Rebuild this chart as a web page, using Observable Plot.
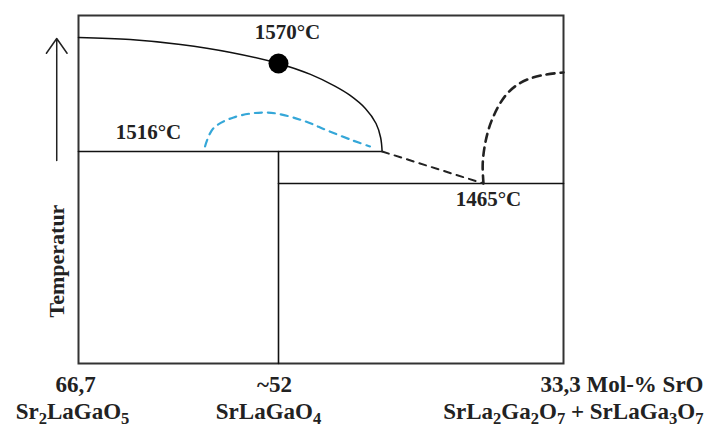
<!DOCTYPE html>
<html>
<head>
<meta charset="utf-8">
<script src="https://cdn.jsdelivr.net/npm/d3@7"></script>
<script src="https://cdn.jsdelivr.net/npm/@observablehq/plot@0.6"></script>
<style>
  html, body { margin: 0; padding: 0; background: #fff; }
  #chart svg { display: block; }
</style>
</head>
<body>
<div id="chart"></div>
<script>
// ---- data (Mol-% SrO on x, temperature on y; schematic phase diagram) ----
const molTicks = [66.7, 52, 33.3];
const tickLabels = ["66,7", "~52", "33,3 Mol-% SrO"];
const phaseLabels = ["Sr₂LaGaO₅", "SrLaGaO₄", "SrLa₂Ga₂O₇ + SrLaGa₃O₇"];
const tempLevels = [1465, 1516, 1570];
const tempLabels = ["1465°C", "1516°C", "1570°C"];

// liquidus (solid curve)
const liquidusMol = [66.7, 62.9, 59.2, 55.5, 52.0, 49.9, 48.3, 47.3, 46.3, 45.6, 45.3, 45.2];
const liquidusT   = [1586.3, 1585.0, 1581.9, 1576.9, 1570.0, 1563.3, 1556.1, 1550.4, 1542.4, 1533.2, 1524.6, 1516.0];

// metastable (blue dashed) curve
const blueMol = [57.4, 56.8, 55.3, 52.8, 50.4, 48.8, 47.1, 46.0];
const blueT   = [1519.1, 1530.1, 1536.9, 1539.9, 1535.0, 1528.9, 1522.7, 1519.1];

// dashed line from end of 1516 line down to eutectic 1465
const slopeMol = [45.2, 38.55];
const slopeT   = [1516, 1465];

// dashed curve rising from eutectic to right edge
const rightMol = [38.55, 38.6, 38.4, 37.96, 37.1, 36.1, 34.8, 33.3];
const rightT   = [1465, 1496.9, 1522.7, 1536.2, 1550.4, 1558.3, 1562.6, 1564.5];

// horizontal / vertical phase boundaries
const solidusMol = [66.7, 45.2];   // 1516 line
const eutecticMol = [52, 33.3];    // 1465 line
const compoundMol = 52;            // SrLaGaO4 vertical
const bottomT = 1400;
const topT = 1600;

// axis arrow (temperature direction)
const arrowMol = 68.3;
const arrowT = [1501.7, 1585.6];
const axisTitle = "Temperatur";
const axisTitleT = 1437;

// schematic (non-linear) axes: piecewise mapping to a 0..1 position
const xWarp = d3.scaleLinear([66.7, 52, 33.3], [0, 200 / 485, 1]);
const yWarp = d3.scaleLinear([bottomT, 1465, 1516, 1570, topT], [0, 180 / 348, 212 / 348, 300 / 348, 1]);

const zip = (xs, ys) => xs.map((x, i) => ({x, y: ys[i]}));

const font = "'Liberation Serif', 'Times New Roman', serif";
const ink = "#222";
const tempFont = 21;
const labelFont = 23;

const chart = Plot.plot({
  width: 710,
  height: 429,
  marginLeft: 78,
  marginRight: 147,
  marginTop: 15,
  marginBottom: 66,
  style: {fontFamily: font, background: "#fff", overflow: "visible"},
  x: {transform: xWarp, domain: [0, 1], axis: null},
  y: {transform: yWarp, domain: [0, 1], axis: null},
  marks: [
    Plot.frame({stroke: "#333", strokeWidth: 2}),
    // 1516 horizontal
    Plot.line(zip(solidusMol, [1516, 1516]), {x: "x", y: "y", stroke: "#111", strokeWidth: 1.6}),
    // vertical compound line
    Plot.line(zip([compoundMol, compoundMol], [bottomT, 1516]), {x: "x", y: "y", stroke: "#111", strokeWidth: 1.6}),
    // 1465 horizontal
    Plot.line(zip(eutecticMol, [1465, 1465]), {x: "x", y: "y", stroke: "#111", strokeWidth: 1.6}),
    // liquidus
    Plot.line(zip(liquidusMol, liquidusT), {x: "x", y: "y", stroke: "#111", strokeWidth: 1.5, curve: "catmull-rom"}),
    // blue dashed
    Plot.line(zip(blueMol, blueT), {x: "x", y: "y", stroke: "#35a7d8", strokeWidth: 2.2, strokeDasharray: "7,6", curve: "catmull-rom"}),
    // black dashed slope
    Plot.line(zip(slopeMol, slopeT), {x: "x", y: "y", stroke: ink, strokeWidth: 2, strokeDasharray: "7,6"}),
    // black dashed right curve
    Plot.line(zip(rightMol, rightT), {x: "x", y: "y", stroke: ink, strokeWidth: 2.6, strokeDasharray: "8,6", curve: "catmull-rom"}),
    // congruent melting point
    Plot.dot([{x: 52, y: 1570}], {x: "x", y: "y", r: 10, fill: "#000"}),
    // temperature labels
    Plot.text([{x: 38.55, y: tempLevels[0], t: tempLabels[0]}], {x: "x", y: "y", text: "t", dx: 5, dy: 22, lineAnchor: "bottom", fontSize: tempFont, fontWeight: "bold", fill: ink}),
    Plot.text([{x: 66.7, y: tempLevels[1], t: tempLabels[1]}], {x: "x", y: "y", text: "t", dx: 70, dy: -13, lineAnchor: "bottom", fontSize: tempFont, fontWeight: "bold", fill: ink}),
    Plot.text([{x: 52, y: tempLevels[2], t: tempLabels[2]}], {x: "x", y: "y", text: "t", dx: 9, dy: -25, lineAnchor: "bottom", fontSize: tempFont, fontWeight: "bold", fill: ink}),
    // temperature arrow
    Plot.arrow([{x: arrowMol, y1: arrowT[0], y2: arrowT[1]}], {x: "x", y1: "y1", y2: "y2", stroke: ink, strokeWidth: 1.5, headLength: 18, headAngle: 70}),
    Plot.text([{y: axisTitleT, t: axisTitle}], {frameAnchor: "left", y: "y", text: "t", dx: -22, rotate: -90, textAnchor: "middle", fontSize: 22, fontWeight: "bold", fill: ink}),
    // composition tick labels
    Plot.text([{x: molTicks[0], t: tickLabels[0]}], {x: "x", text: "t", frameAnchor: "bottom", lineAnchor: "bottom", dy: 28, dx: -3, fontSize: labelFont, fontWeight: "bold", fill: ink}),
    Plot.text([{x: molTicks[1], t: tickLabels[1]}], {x: "x", text: "t", frameAnchor: "bottom", lineAnchor: "bottom", dy: 28, dx: -4, fontSize: labelFont, fontWeight: "bold", fill: ink}),
    Plot.text([{x: molTicks[2], t: tickLabels[2]}], {x: "x", text: "t", frameAnchor: "bottom", lineAnchor: "bottom", textAnchor: "end", dy: 28, dx: 140, fontSize: labelFont, fontWeight: "bold", fill: ink}),
    // phase labels
    Plot.text([{x: molTicks[0], t: phaseLabels[0]}], {x: "x", text: "t", frameAnchor: "bottom", lineAnchor: "bottom", dy: 55, dx: -6, fontSize: labelFont, fontWeight: "bold", fill: ink}),
    Plot.text([{x: molTicks[1], t: phaseLabels[1]}], {x: "x", text: "t", frameAnchor: "bottom", lineAnchor: "bottom", dy: 55, dx: -10, fontSize: labelFont, fontWeight: "bold", fill: ink}),
    Plot.text([{x: molTicks[2], t: phaseLabels[2]}], {x: "x", text: "t", frameAnchor: "bottom", lineAnchor: "bottom", textAnchor: "end", dy: 55, dx: 140, fontSize: labelFont, fontWeight: "bold", fill: ink})
  ]
});

// render subscript digits as lowered, slightly smaller tspans (still real text)
const subDigits = "₀₁₂₃₄₅₆₇₈₉";
d3.select(chart).selectAll("text").each(function () {
  const s = this.textContent;
  if (!/[₀-₉]/.test(s)) return;
  const runs = s.match(/[₀-₉]+|[^₀-₉]+/g);
  this.textContent = "";
  const sel = d3.select(this);
  let lowered = false;
  for (const r of runs) {
    const isSub = /[₀-₉]/.test(r);
    const t = sel.append("tspan");
    if (isSub) {
      t.text([...r].map(c => String(subDigits.indexOf(c))).join(""))
        .attr("font-size", "0.72em").attr("dy", lowered ? null : 5);
      lowered = true;
    } else {
      t.text(r);
      if (lowered) t.attr("dy", -5);
      lowered = false;
    }
  }
});

document.getElementById("chart").appendChild(chart);
</script>
</body>
</html>
